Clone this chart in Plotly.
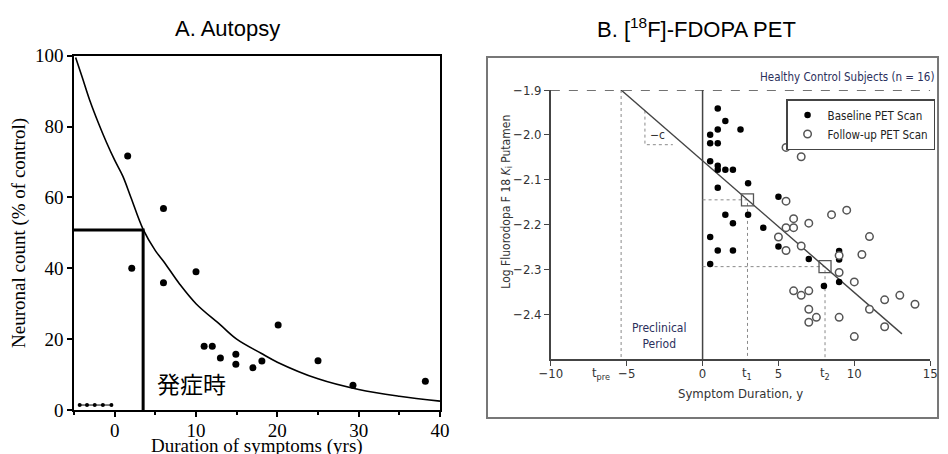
import plotly.graph_objects as go

# the page body adds an 8px margin and the right 8px of the window are not shown,
# so the figure is laid out 8px in from the corner and 16px narrower than the window
W, H = 948, 454
OFF = 8
FW, FH = W - 2 * OFF, H - OFF

# ---- Panel A: autopsy neuronal counts ----
a_x = [1.6, 2.1, 6.0, 6.0, 10.0, 11.0, 12.0, 13.0, 14.9, 14.9, 17.0, 18.1, 20.1, 25.0, 29.3, 38.2]
a_y = [71.7, 40.0, 56.9, 35.9, 39.0, 18.0, 18.0, 14.7, 15.7, 12.9, 11.9, 13.8, 24.0, 13.9, 7.0, 8.1]
a_pre_x = [-4.3, -3.4, -2.45, -1.45, -0.4]
a_pre_y = [1.4, 1.4, 1.4, 1.4, 1.4]
a_curve_x = [-4.8, -4.0, -3.0, -2.0, -1.0, 0.0, 1.0, 2.0, 3.5, 5.0, 6.0, 8.0, 10.0, 13.0,
             15.0, 18.0, 20.0, 25.0, 30.0, 35.0, 40.0]
a_curve_y = [99.5, 94.0, 87.0, 81.0, 75.5, 70.5, 66.0, 60.0, 51.0, 45.0, 42.0, 35.5, 30.0, 24.0,
             20.0, 16.0, 13.5, 8.8, 5.8, 3.9, 2.5]
a_onset_x = 3.5
a_onset_y = 50.8

# ---- Panel B: FDOPA PET ----
base_x = [1.0, 1.5, 1.0, 2.5, 0.5, 0.5, 1.0, 0.5, 1.0, 1.0, 1.5, 2.0, 1.0, 3.0, 5.0, 1.5,
          2.0, 3.0, 4.0, 0.5, 1.0, 2.0, 0.5, 5.0, 7.0, 8.0, 9.0, 9.0, 9.0]
base_y = [-1.941, -1.969, -1.988, -1.988, -2.000, -2.019, -2.019, -2.059, -2.069, -2.078,
          -2.078, -2.078, -2.118, -2.108, -2.138, -2.178, -2.197, -2.178, -2.207, -2.228,
          -2.258, -2.258, -2.288, -2.249, -2.277, -2.337, -2.259, -2.278, -2.328]
follow_x = [5.5, 6.5, 5.5, 6.0, 7.0, 5.5, 6.0, 8.5, 9.5, 11.0, 5.0, 5.5, 6.5, 9.0, 10.5,
            9.0, 10.0, 6.0, 6.5, 7.0, 7.0, 7.5, 7.0, 9.0, 12.0, 13.0, 14.0, 11.0, 12.0, 10.0]
follow_y = [-2.028, -2.049, -2.148, -2.187, -2.197, -2.207, -2.207, -2.178, -2.168, -2.227,
            -2.228, -2.258, -2.248, -2.269, -2.267, -2.307, -2.328, -2.348, -2.358, -2.348,
            -2.389, -2.407, -2.418, -2.407, -2.368, -2.358, -2.378, -2.389, -2.428, -2.450]
fit_x = [-5.37, 13.14]
fit_y = [-1.900, -2.444]
t_pre, t1, t2 = -5.37, 2.96, 8.07
k1, k2 = -2.145, -2.294
control_y = -1.9
slope_x = [-3.8, -3.8, -1.96]
slope_y = [-1.946, -2.022, -2.022]

serif = "Liberation Serif, Times New Roman, serif"
narrow = "Liberation Sans Narrow, DejaVu Sans Condensed, Arial Narrow, sans-serif"
sans = "Liberation Sans, Arial, sans-serif"
navy = "#2b2f5c"
gray = "#444444"


def px(x):
    return (x - OFF) / FW


def py(y):
    return 1 - (y - OFF) / FH


def bx(x):
    # panel B spans 487..947 in the reference; squeeze it into 487..939
    return px(487 + (x - 487) * 452 / 460)


fig = go.Figure()

# Panel A traces
fig.add_trace(go.Scatter(x=a_curve_x, y=a_curve_y, mode="lines",
                         line=dict(color="black", width=1.6, shape="spline", smoothing=1),
                         showlegend=False, xaxis="x", yaxis="y"))
fig.add_trace(go.Scatter(x=[-5, a_onset_x, a_onset_x], y=[a_onset_y, a_onset_y, 0], mode="lines",
                         line=dict(color="black", width=3), showlegend=False, xaxis="x", yaxis="y"))
fig.add_trace(go.Scatter(x=a_x, y=a_y, mode="markers", marker=dict(color="black", size=7),
                         showlegend=False, xaxis="x", yaxis="y"))
fig.add_trace(go.Scatter(x=a_pre_x, y=a_pre_y, mode="lines+markers", line=dict(color="black", width=1),
                         marker=dict(color="black", size=4), showlegend=False, xaxis="x", yaxis="y",
                         cliponaxis=False))

# Panel B guide lines
dot = dict(color="#8a8a8a", width=1, dash="dot")
fig.add_trace(go.Scatter(x=[-10, 15], y=[control_y, control_y], mode="lines",
                         line=dict(color=gray, width=1.3, dash="dash"), showlegend=False,
                         xaxis="x2", yaxis="y2", cliponaxis=False))
fig.add_trace(go.Scatter(x=[0, 0], y=[control_y, -2.5], mode="lines", line=dict(color=gray, width=1.5),
                         showlegend=False, xaxis="x2", yaxis="y2"))
fig.add_trace(go.Scatter(x=[t_pre, t_pre], y=[control_y, -2.5], mode="lines", line=dot,
                         showlegend=False, xaxis="x2", yaxis="y2"))
fig.add_trace(go.Scatter(x=[0, t1, t1], y=[k1, k1, -2.5], mode="lines", line=dot,
                         showlegend=False, xaxis="x2", yaxis="y2"))
fig.add_trace(go.Scatter(x=[0, t2, t2], y=[k2, k2, -2.5], mode="lines", line=dot,
                         showlegend=False, xaxis="x2", yaxis="y2"))
fig.add_trace(go.Scatter(x=slope_x, y=slope_y, mode="lines", line=dot,
                         showlegend=False, xaxis="x2", yaxis="y2"))
fig.add_trace(go.Scatter(x=fit_x, y=fit_y, mode="lines", line=dict(color=gray, width=1.4),
                         showlegend=False, xaxis="x2", yaxis="y2"))
fig.add_trace(go.Scatter(x=base_x, y=base_y, mode="markers", name="Baseline PET Scan",
                         marker=dict(color="black", size=6.5), xaxis="x2", yaxis="y2"))
fig.add_trace(go.Scatter(x=follow_x, y=follow_y, mode="markers", name="Follow-up PET Scan",
                         marker=dict(color="white", size=7.5, line=dict(color="#555555", width=1.5)),
                         xaxis="x2", yaxis="y2"))
fig.add_trace(go.Scatter(x=[t1, t2], y=[k1, k2], mode="markers",
                         marker=dict(symbol="square-open", size=12, color="#555555", line=dict(width=1.3)),
                         showlegend=False, xaxis="x2", yaxis="y2"))
fig.add_trace(go.Scatter(x=[t_pre], y=[-1.869], mode="markers",
                         marker=dict(symbol="x-thin", size=6, line=dict(color=gray, width=1.3)),
                         showlegend=False, xaxis="x2", yaxis="y2", cliponaxis=False))

ann = [
    dict(text="A. Autopsy", x=px(227), y=py(28), font=dict(family=sans, size=22, color="black")),
    dict(text="B. [<sup>18</sup>F]-FDOPA PET", x=bx(700), y=py(28),
         font=dict(family=sans, size=22, color="black")),
    dict(text="Duration of symptoms (yrs)", x=px(257), y=py(446),
         font=dict(family=serif, size=19, color="black")),
    dict(text="Neuronal count (% of control)", x=px(19), y=py(233), textangle=-90,
         font=dict(family=serif, size=19, color="black")),
    dict(text="発症時", x=9.4, y=7.6, xref="x", yref="y",
         font=dict(family="Noto Sans CJK JP", size=23, color="black")),
    dict(text="Log Fluorodopa F 18 <i>K</i><sub>i</sub> Putamen", x=bx(507), y=py(202), textangle=-90,
         font=dict(family=narrow, size=12, color="#333333")),
    dict(text="Symptom Duration, y", x=bx(745), y=py(393),
         font=dict(family=narrow, size=13, color="#333333")),
    dict(text="Healthy Control Subjects (n = 16)", x=bx(944), y=py(77), xanchor="right",
         font=dict(family=narrow, size=11.5, color=navy)),
    dict(text="Preclinical<br>Period", x=-2.85, y=-2.449, xref="x2", yref="y2",
         font=dict(family=narrow, size=12, color=navy)),
    dict(text="−c", x=-3.0, y=-2.0, xref="x2", yref="y2",
         font=dict(family=narrow, size=12, color="#333333")),
    dict(text="t<sub>pre</sub>", x=-6.7, y=py(373), xref="x2",
         font=dict(family=narrow, size=13, color="#333333")),
    dict(text="t<sub>1</sub>", x=t1, y=py(373), xref="x2",
         font=dict(family=narrow, size=13, color="#333333")),
    dict(text="t<sub>2</sub>", x=t2, y=py(373), xref="x2",
         font=dict(family=narrow, size=13, color="#333333")),
]
for a in ann:
    a.setdefault("xref", "paper")
    a.setdefault("yref", "paper")
    a.setdefault("xanchor", "center")
    a.setdefault("yanchor", "middle")
    a.setdefault("showarrow", False)
fig.update_layout(annotations=ann)

fig.update_layout(
    width=FW,
    height=FH,
    margin=dict(l=0, r=0, t=0, b=0, autoexpand=False),
    paper_bgcolor="white",
    plot_bgcolor="white",
    shapes=[dict(type="rect", xref="paper", yref="paper", x0=bx(487), x1=bx(946), y0=py(418), y1=py(57),
                 line=dict(color="#777777", width=2))],
    legend=dict(x=bx(943), xanchor="right", y=py(99), yanchor="top", bgcolor="white",
                bordercolor=gray, borderwidth=1.5, font=dict(family=narrow, size=11.5, color="#222222"),
                itemwidth=30, tracegroupgap=0),
    xaxis=dict(domain=[px(74), px(440)], range=[-5, 40], tickvals=[0, 10, 20, 30, 40],
               showline=True, linecolor="black", linewidth=1.5, mirror=True, ticks="outside",
               ticklen=5, tickwidth=1.5, tickcolor="black", showgrid=False, zeroline=False,
               automargin=False, ticklabelstandoff=-3,
               minor=dict(tickvals=[-5, 5, 15, 25, 35], ticks="outside", ticklen=3, tickcolor="black"),
               tickfont=dict(family=serif, size=19, color="black")),
    yaxis=dict(domain=[py(410), py(55.7)], range=[0, 100], tickvals=[0, 20, 40, 60, 80, 100],
               showline=True, linecolor="black", linewidth=1.5, mirror=True, ticks="outside",
               ticklen=5, tickwidth=1.5, tickcolor="black", showgrid=False, zeroline=False,
               automargin=False, tickfont=dict(family=serif, size=19, color="black")),
    xaxis2=dict(domain=[bx(552), bx(938)], range=[-10, 15], tickvals=[-10, -5, 0, 5, 10, 15],
                ticktext=["−10", "−5", "0", "5", "10", "15"], anchor="y2",
                showline=True, linecolor=gray, linewidth=1.5, ticks="outside", ticklen=5,
                tickwidth=1.3, tickcolor=gray, showgrid=False, zeroline=False, automargin=False,
                ticklabelstandoff=-3, tickfont=dict(family=narrow, size=13, color="#333333")),
    yaxis2=dict(domain=[py(359), py(90)], range=[-2.5, -1.9],
                tickvals=[-1.9, -2.0, -2.1, -2.2, -2.3, -2.4],
                ticktext=["−1.9", "−2.0", "−2.1", "−2.2", "−2.3", "−2.4"], anchor="x2",
                showline=True, linecolor=gray, linewidth=1.5, ticks="outside", ticklen=5,
                tickwidth=1.3, tickcolor=gray, showgrid=False, zeroline=False, automargin=False,
                tickfont=dict(family=narrow, size=13, color="#333333")),
)

fig.write_html("out.html")
